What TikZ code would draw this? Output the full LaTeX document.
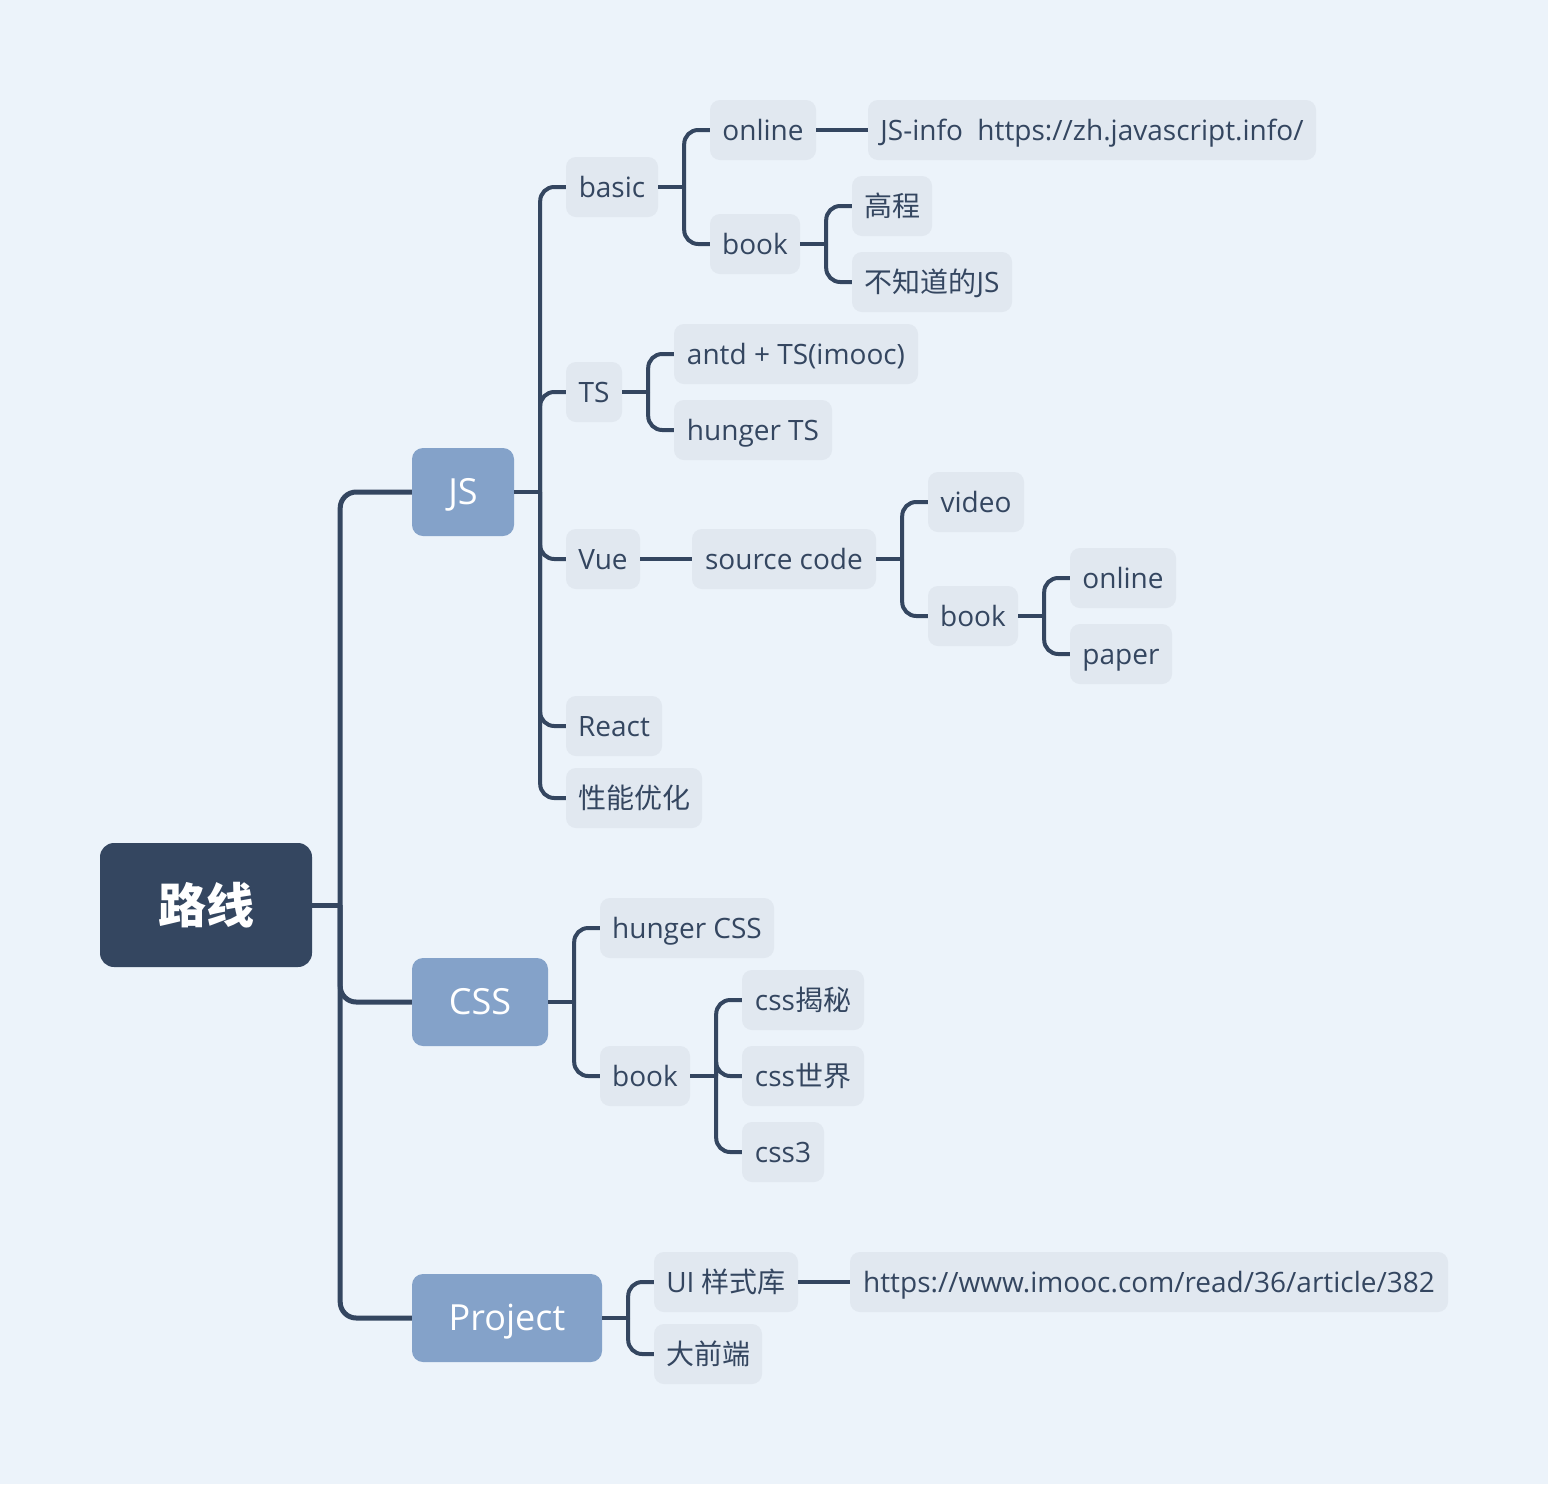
\documentclass[tikz,border=0pt]{standalone}
\usepackage{fontspec}
\setmainfont{Open Sans}
\newfontfamily\cjk{Noto Sans CJK SC}
\definecolor{bg}{HTML}{ECF3FA}
\definecolor{ink}{HTML}{344660}
\definecolor{leaffill}{HTML}{E1E8F0}
\definecolor{mainfill}{HTML}{84A2C9}
\begin{document}
\begin{tikzpicture}[x=1pt,y=-1pt,
  leaf/.style={fill=leaffill, rounded corners=10pt, minimum height=60pt, inner sep=0pt, text height=20pt, text depth=0pt, text=ink, font=\fontsize{28}{32}\selectfont},
  mainnode/.style={fill=mainfill, rounded corners=11pt, minimum height=88pt, inner sep=0pt, text height=24pt, text depth=0pt, text=white, font=\fontsize{36}{40}\selectfont},
  rootnode/.style={fill=ink, rounded corners=14pt, minimum width=212pt, minimum height=124pt, inner sep=0pt, text=white, font=\cjk\bfseries\fontsize{48}{52}\selectfont},
  con/.style={draw=ink, line width=4pt, rounded corners=14pt},
  rcon/.style={draw=ink, line width=5pt, rounded corners=16pt}]
\fill[bg] (0,0) rectangle (1548,1484);
% root
\node[rootnode] (root) at (206,905) {路线};
% level 1
\node[mainnode, minimum width=102pt] (js) at (463,492) {JS};
\node[mainnode, minimum width=136pt] (css) at (480,1002) {CSS};
\node[mainnode, minimum width=190pt] (proj) at (507,1318) {Project};
% JS children
\node[leaf, minimum width=92pt] (basic) at (612,187) {basic};
\node[leaf, minimum width=56pt] (ts) at (594,392) {TS};
\node[leaf, minimum width=74pt] (vue) at (603,559) {Vue};
\node[leaf, minimum width=96pt] (react) at (614,726) {React};
\node[leaf, minimum width=136pt] (perf) at (634,798) {\cjk 性能优化};
% basic children
\node[leaf, minimum width=106pt] (online) at (763,130) {online};
\node[leaf, minimum width=90pt] (bookA) at (755,244) {book};
\node[leaf, minimum width=448pt] (jsinfo) at (1092,130) {JS-info\ \ https://zh.javascript.info/};
\node[leaf, minimum width=80pt] (gc) at (892,206) {\cjk 高程};
\node[leaf, minimum width=160pt] (bzd) at (932,282) {{\cjk 不知道的}JS};
% TS children
\node[leaf, minimum width=244pt] (antd) at (796,354) {antd + TS(imooc)};
\node[leaf, minimum width=158pt] (hts) at (753,430) {hunger TS};
% Vue
\node[leaf, minimum width=184pt] (src) at (784,559) {source code};
\node[leaf, minimum width=96pt] (video) at (976,502) {video};
\node[leaf, minimum width=90pt] (bookB) at (973,616) {book};
\node[leaf, minimum width=106pt] (onlineB) at (1123,578) {online};
\node[leaf, minimum width=102pt] (paper) at (1121,654) {paper};
% CSS
\node[leaf, minimum width=174pt] (hcss) at (687,928) {hunger CSS};
\node[leaf, minimum width=90pt] (bookC) at (645,1076) {book};
\node[leaf, minimum width=122pt] (jm) at (803,1000) {css{\cjk 揭秘}};
\node[leaf, minimum width=122pt] (sj) at (803,1076) {css{\cjk 世界}};
\node[leaf, minimum width=82pt] (c3) at (783,1152) {css3};
% Project
\node[leaf, minimum width=144pt] (ui) at (726,1282) {UI {\cjk 样式库}};
\node[leaf, minimum width=108pt] (dqd) at (708,1354) {\cjk 大前端};
\node[leaf, minimum width=598pt] (url) at (1149,1282) {https://www.imooc.com/read/36/article/382};
% junction points
\coordinate (rootm) at ([xshift=28pt]root.east);
\coordinate (jsm) at ([xshift=26pt]js.east);
\coordinate (basicm) at ([xshift=26pt]basic.east);
\coordinate (bookAm) at ([xshift=26pt]bookA.east);
\coordinate (tsm) at ([xshift=26pt]ts.east);
\coordinate (srcm) at ([xshift=26pt]src.east);
\coordinate (bookBm) at ([xshift=26pt]bookB.east);
\coordinate (cssm) at ([xshift=26pt]css.east);
\coordinate (bookCm) at ([xshift=26pt]bookC.east);
\coordinate (projm) at ([xshift=26pt]proj.east);
% root connectors
\draw[rcon] (root.east) -- (rootm);
\foreach \c in {js,css,proj} \draw[rcon] (rootm) |- (\c.west);
% JS
\draw[con] (js.east) -- (jsm);
\foreach \c in {basic,ts,vue,react,perf} \draw[con] (jsm) |- (\c.west);
\draw[con] (basic.east) -- (basicm);
\foreach \c in {online,bookA} \draw[con] (basicm) |- (\c.west);
\draw[con] (online.east) -- (jsinfo.west);
\draw[con] (bookA.east) -- (bookAm);
\foreach \c in {gc,bzd} \draw[con] (bookAm) |- (\c.west);
\draw[con] (ts.east) -- (tsm);
\foreach \c in {antd,hts} \draw[con] (tsm) |- (\c.west);
\draw[con] (vue.east) -- (src.west);
\draw[con] (src.east) -- (srcm);
\foreach \c in {video,bookB} \draw[con] (srcm) |- (\c.west);
\draw[con] (bookB.east) -- (bookBm);
\foreach \c in {onlineB,paper} \draw[con] (bookBm) |- (\c.west);
% CSS
\draw[con] (css.east) -- (cssm);
\foreach \c in {hcss,bookC} \draw[con] (cssm) |- (\c.west);
\draw[con] (bookC.east) -- (bookCm);
\foreach \c in {jm,sj,c3} \draw[con] (bookCm) |- (\c.west);
% Project
\draw[con] (proj.east) -- (projm);
\foreach \c in {ui,dqd} \draw[con] (projm) |- (\c.west);
\draw[con] (ui.east) -- (url.west);
\end{tikzpicture}
\end{document}
